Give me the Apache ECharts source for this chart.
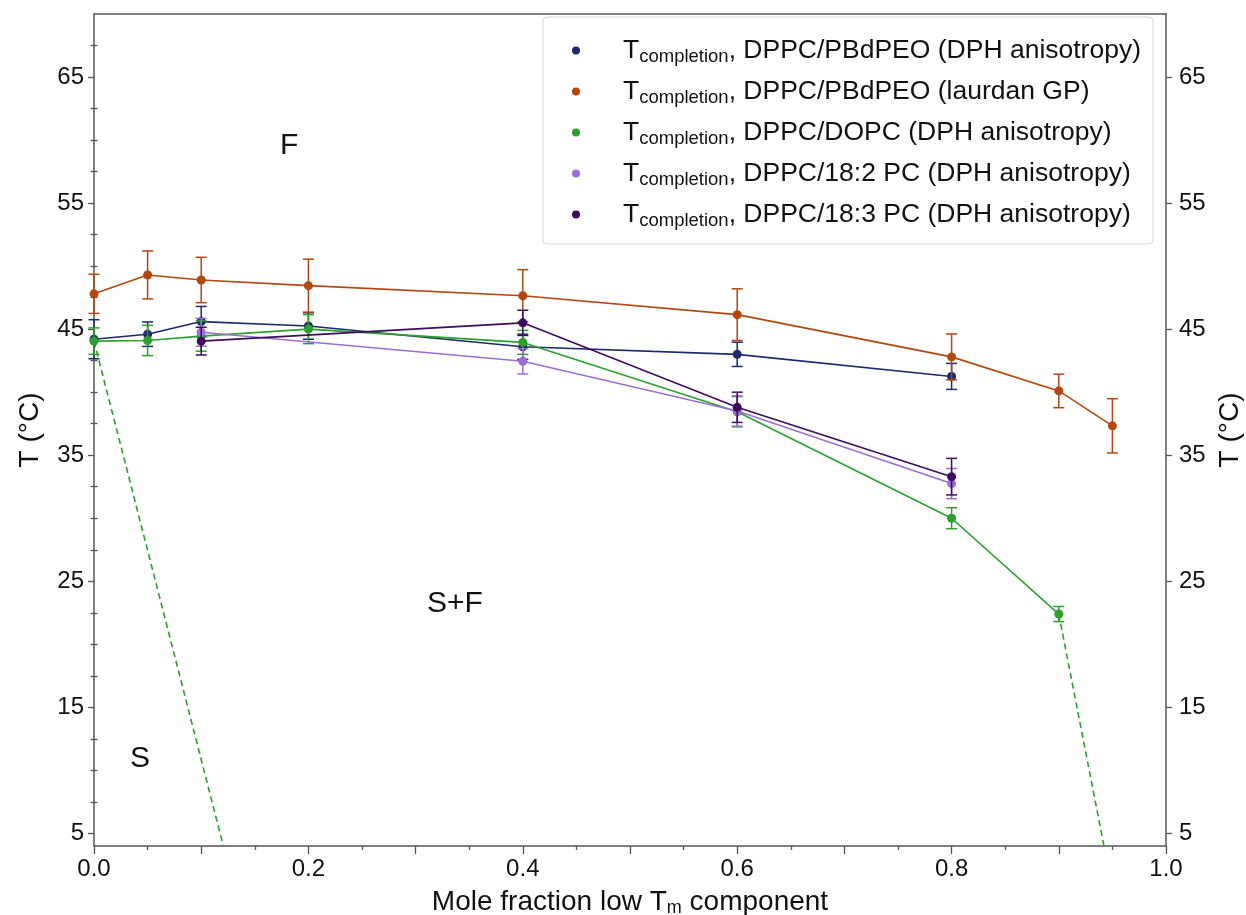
<!DOCTYPE html>
<html>
<head>
<meta charset="utf-8">
<script src="https://cdn.jsdelivr.net/npm/echarts@6/dist/echarts.min.js"></script>
<style>
  html, body { margin: 0; padding: 0; background: #fff; }
  #chart { width: 1246px; height: 915px; }
</style>
</head>
<body>
<div id="chart"></div>
<script>
// ---------------- data ----------------
const seriesNames = [
  'DPPC/PBdPEO (DPH anisotropy)',
  'DPPC/PBdPEO (laurdan GP)',
  'DPPC/DOPC (DPH anisotropy)',
  'DPPC/18:2 PC (DPH anisotropy)',
  'DPPC/18:3 PC (DPH anisotropy)'
];

const xNavy = [0, 0.05, 0.1, 0.2, 0.4, 0.6, 0.8];
const yNavy = [44.2, 44.6, 45.6, 45.25, 43.6, 43.0, 41.25];
const eNavy = [1.55, 0.97, 1.2, 1.05, 1.0, 0.96, 1.03];

const xOrange = [0, 0.05, 0.1, 0.2, 0.4, 0.6, 0.8, 0.9, 0.95];
const yOrange = [47.8, 49.3, 48.9, 48.45, 47.65, 46.15, 42.8, 40.1, 37.33];
const eOrange = [1.55, 1.9, 1.8, 2.1, 2.07, 2.05, 1.82, 1.33, 2.15];

const xGreen = [0, 0.05, 0.1, 0.2, 0.4, 0.6, 0.8, 0.9];
const yGreen = [44.05, 44.1, 44.45, 45.0, 43.95, 38.45, 30.0, 22.4];
const eGreen = [1.05, 1.2, 1.2, 1.15, 0.95, 1.2, 0.83, 0.6];

const xLav = [0.1, 0.4, 0.6, 0.8];
const yLav = [44.75, 42.45, 38.5, 32.75];
const eLav = [1.1, 1.0, 1.2, 1.2];

const xDark = [0.1, 0.4, 0.6, 0.8];
const yDark = [44.05, 45.5, 38.8, 33.3];
const eDark = [1.1, 1.0, 1.2, 1.45];

// phase boundary (dashed) end points, DPPC/DOPC
const boundaryLeftEnd = [0.1327, 0];
const boundaryRightEnd = [0.9513, 0];

// axis ticks
const yMajorTicks = [5, 15, 25, 35, 45, 55, 65];
const yMinorTicks = [7.5, 10, 12.5, 17.5, 20, 22.5, 27.5, 30, 32.5, 37.5, 40, 42.5,
                     47.5, 50, 52.5, 57.5, 60, 62.5, 67.5];
const xLabelValues = [0, 0.2, 0.4, 0.6, 0.8, 1.0];

// ---------------- styles ----------------
const colors = ['#1d2a6c', '#b3470f', '#2ca02c', '#9b6fd2', '#3d0c5c'];
const FONT = 'Liberation Sans, Arial, Helvetica, sans-serif';
const AXIS_COLOR = '#555';

const groups = [
  [xNavy, yNavy, eNavy],
  [xOrange, yOrange, eOrange],
  [xGreen, yGreen, eGreen],
  [xLav, yLav, eLav],
  [xDark, yDark, eDark]
];

function pairs(xs, ys) { return xs.map((x, i) => [x, ys[i]]); }

function errRenderer(color) {
  return function (params, api) {
    const x = api.value(0), lo = api.value(1), hi = api.value(2);
    const p1 = api.coord([x, hi]);
    const p2 = api.coord([x, lo]);
    const w = 5.5;
    const style = { stroke: color, lineWidth: 1.5, fill: null };
    return {
      type: 'group',
      children: [
        { type: 'line', shape: { x1: p1[0], y1: p1[1], x2: p2[0], y2: p2[1] }, style },
        { type: 'line', shape: { x1: p1[0] - w, y1: p1[1], x2: p1[0] + w, y2: p1[1] }, style },
        { type: 'line', shape: { x1: p2[0] - w, y1: p2[1], x2: p2[0] + w, y2: p2[1] }, style }
      ]
    };
  };
}

const series = [];
series.push({
  type: 'line', name: 'boundaryL', data: [[xGreen[0], yGreen[0]], boundaryLeftEnd],
  showSymbol: false, symbol: 'none', clip: true, silent: true,
  lineStyle: { color: colors[2], width: 1.6, type: [6, 4] }, z: 1
});
series.push({
  type: 'line', name: 'boundaryR',
  data: [[xGreen[xGreen.length - 1], yGreen[yGreen.length - 1]], boundaryRightEnd],
  showSymbol: false, symbol: 'none', clip: true, silent: true,
  lineStyle: { color: colors[2], width: 1.6, type: [6, 4] }, z: 1
});

groups.forEach((g, k) => {
  const [xs, ys, es] = g;
  series.push({
    type: 'custom', name: 'err' + k,
    renderItem: errRenderer(colors[k]),
    data: xs.map((x, i) => [x, ys[i] - es[i], ys[i] + es[i]]),
    encode: { x: 0, y: [1, 2] },
    z: 2 + k * 2, silent: true
  });
  series.push({
    type: 'line', name: seriesNames[k], data: pairs(xs, ys),
    symbol: 'circle', symbolSize: 9, showSymbol: true,
    itemStyle: { color: colors[k] },
    lineStyle: { color: colors[k], width: 1.6 },
    z: 3 + k * 2, animation: false
  });
});

const yAxisBase = {
  type: 'value', min: 4, max: 70,
  splitLine: { show: false },
};

const option = {
  animation: false,
  textStyle: { fontFamily: FONT },
  grid: { left: 94, right: 80, top: 14, bottom: 69, containLabel: false, outerBoundsMode: 'none' },
  legend: {
    data: seriesNames,
    orient: 'vertical',
    right: 93, top: 17,
    icon: 'circle', itemWidth: 8, itemHeight: 8, itemGap: 10,
    padding: [18, 12, 14, 29],
    borderColor: '#d6d6d6', borderWidth: 1, borderRadius: 4,
    backgroundColor: '#fff',
    selectedMode: false,
    formatter: name => '{g| }{t|T}{s|completion}{n|, ' + name + '}',
    textStyle: {
      fontFamily: FONT, color: '#111',
      rich: {
        g: { width: 38, fontSize: 26, lineHeight: 30 },
        t: { fontSize: 26.5, lineHeight: 30, fontFamily: FONT, color: '#111' },
        s: { fontSize: 18.5, lineHeight: 30, fontFamily: FONT, color: '#111', padding: [12, 0, 0, 0] },
        n: { fontSize: 26.5, lineHeight: 30, fontFamily: FONT, color: '#111' }
      }
    }
  },
  xAxis: [
    {
      type: 'value', position: 'bottom', min: 0, max: 1, interval: 0.1,
      axisLine: { show: true, onZero: false, lineStyle: { color: AXIS_COLOR, width: 1.5 } },
      axisTick: { show: true, length: 8, lineStyle: { color: AXIS_COLOR, width: 1.3 } },
      minorTick: { show: true, splitNumber: 2, length: 4, lineStyle: { color: AXIS_COLOR, width: 1.3 } },
      splitLine: { show: false },
      axisLabel: {
        customValues: xLabelValues,
        formatter: v => v.toFixed(1),
        fontSize: 24, color: '#111', margin: 11, fontFamily: FONT
      },
      name: '{a|Mole fraction low T}{s|m}{a| component}',
      nameLocation: 'middle', nameGap: 40,
      nameTextStyle: {
        rich: {
          a: { fontSize: 28, fontFamily: FONT, color: '#111', lineHeight: 32 },
          s: { fontSize: 18, fontFamily: FONT, color: '#111', lineHeight: 32, padding: [12, 0, 0, 0] }
        }
      }
    },
    {
      type: 'value', position: 'top', min: 0, max: 1,
      axisLine: { show: true, onZero: false, lineStyle: { color: AXIS_COLOR, width: 1.5 } },
      axisTick: { show: false }, axisLabel: { show: false }, splitLine: { show: false }
    }
  ],
  yAxis: [
    Object.assign({}, yAxisBase, {
      position: 'left',
      axisLine: { show: true, onZero: false, lineStyle: { color: AXIS_COLOR, width: 1.5 } },
      axisTick: { show: true, customValues: yMajorTicks, length: 6, lineStyle: { color: AXIS_COLOR, width: 1.3 } },
      axisLabel: { customValues: yMajorTicks, fontSize: 24, color: '#111', margin: 10, fontFamily: FONT },
      name: 'T (°C)', nameLocation: 'middle', nameRotate: 90, nameGap: 50,
      nameTextStyle: { fontSize: 28, color: '#111', fontFamily: FONT }
    }),
    Object.assign({}, yAxisBase, {
      position: 'left',
      axisLine: { show: false },
      axisTick: { show: true, customValues: yMinorTicks, length: 3.5, lineStyle: { color: AXIS_COLOR, width: 1.3 } },
      axisLabel: { show: false }
    }),
    Object.assign({}, yAxisBase, {
      position: 'right',
      axisLine: { show: true, onZero: false, lineStyle: { color: AXIS_COLOR, width: 1.5 } },
      axisTick: { show: true, customValues: yMajorTicks, length: 6, lineStyle: { color: AXIS_COLOR, width: 1.3 } },
      axisLabel: { customValues: yMajorTicks, fontSize: 24, color: '#111', margin: 13, fontFamily: FONT },
      name: 'T (°C)', nameLocation: 'middle', nameRotate: 90, nameGap: 46,
      nameTextStyle: { fontSize: 28, color: '#111', fontFamily: FONT }
    }),
    Object.assign({}, yAxisBase, {
      position: 'right',
      axisLine: { show: false },
      axisTick: { show: true, customValues: yMinorTicks, length: 3.5, lineStyle: { color: AXIS_COLOR, width: 1.3 } },
      axisLabel: { show: false }
    })
  ],
  graphic: [
    { type: 'text', left: 280, top: 131, style: { text: 'F', fontSize: 30, fontFamily: FONT, fill: '#111' } },
    { type: 'text', left: 427, top: 589, style: { text: 'S+F', fontSize: 30, fontFamily: FONT, fill: '#111' } },
    { type: 'text', left: 130, top: 744, style: { text: 'S', fontSize: 30, fontFamily: FONT, fill: '#111' } }
  ],
  series: series
};

const chart = echarts.init(document.getElementById('chart'), null, { renderer: 'canvas' });
chart.setOption(option);
</script>
</body>
</html>
